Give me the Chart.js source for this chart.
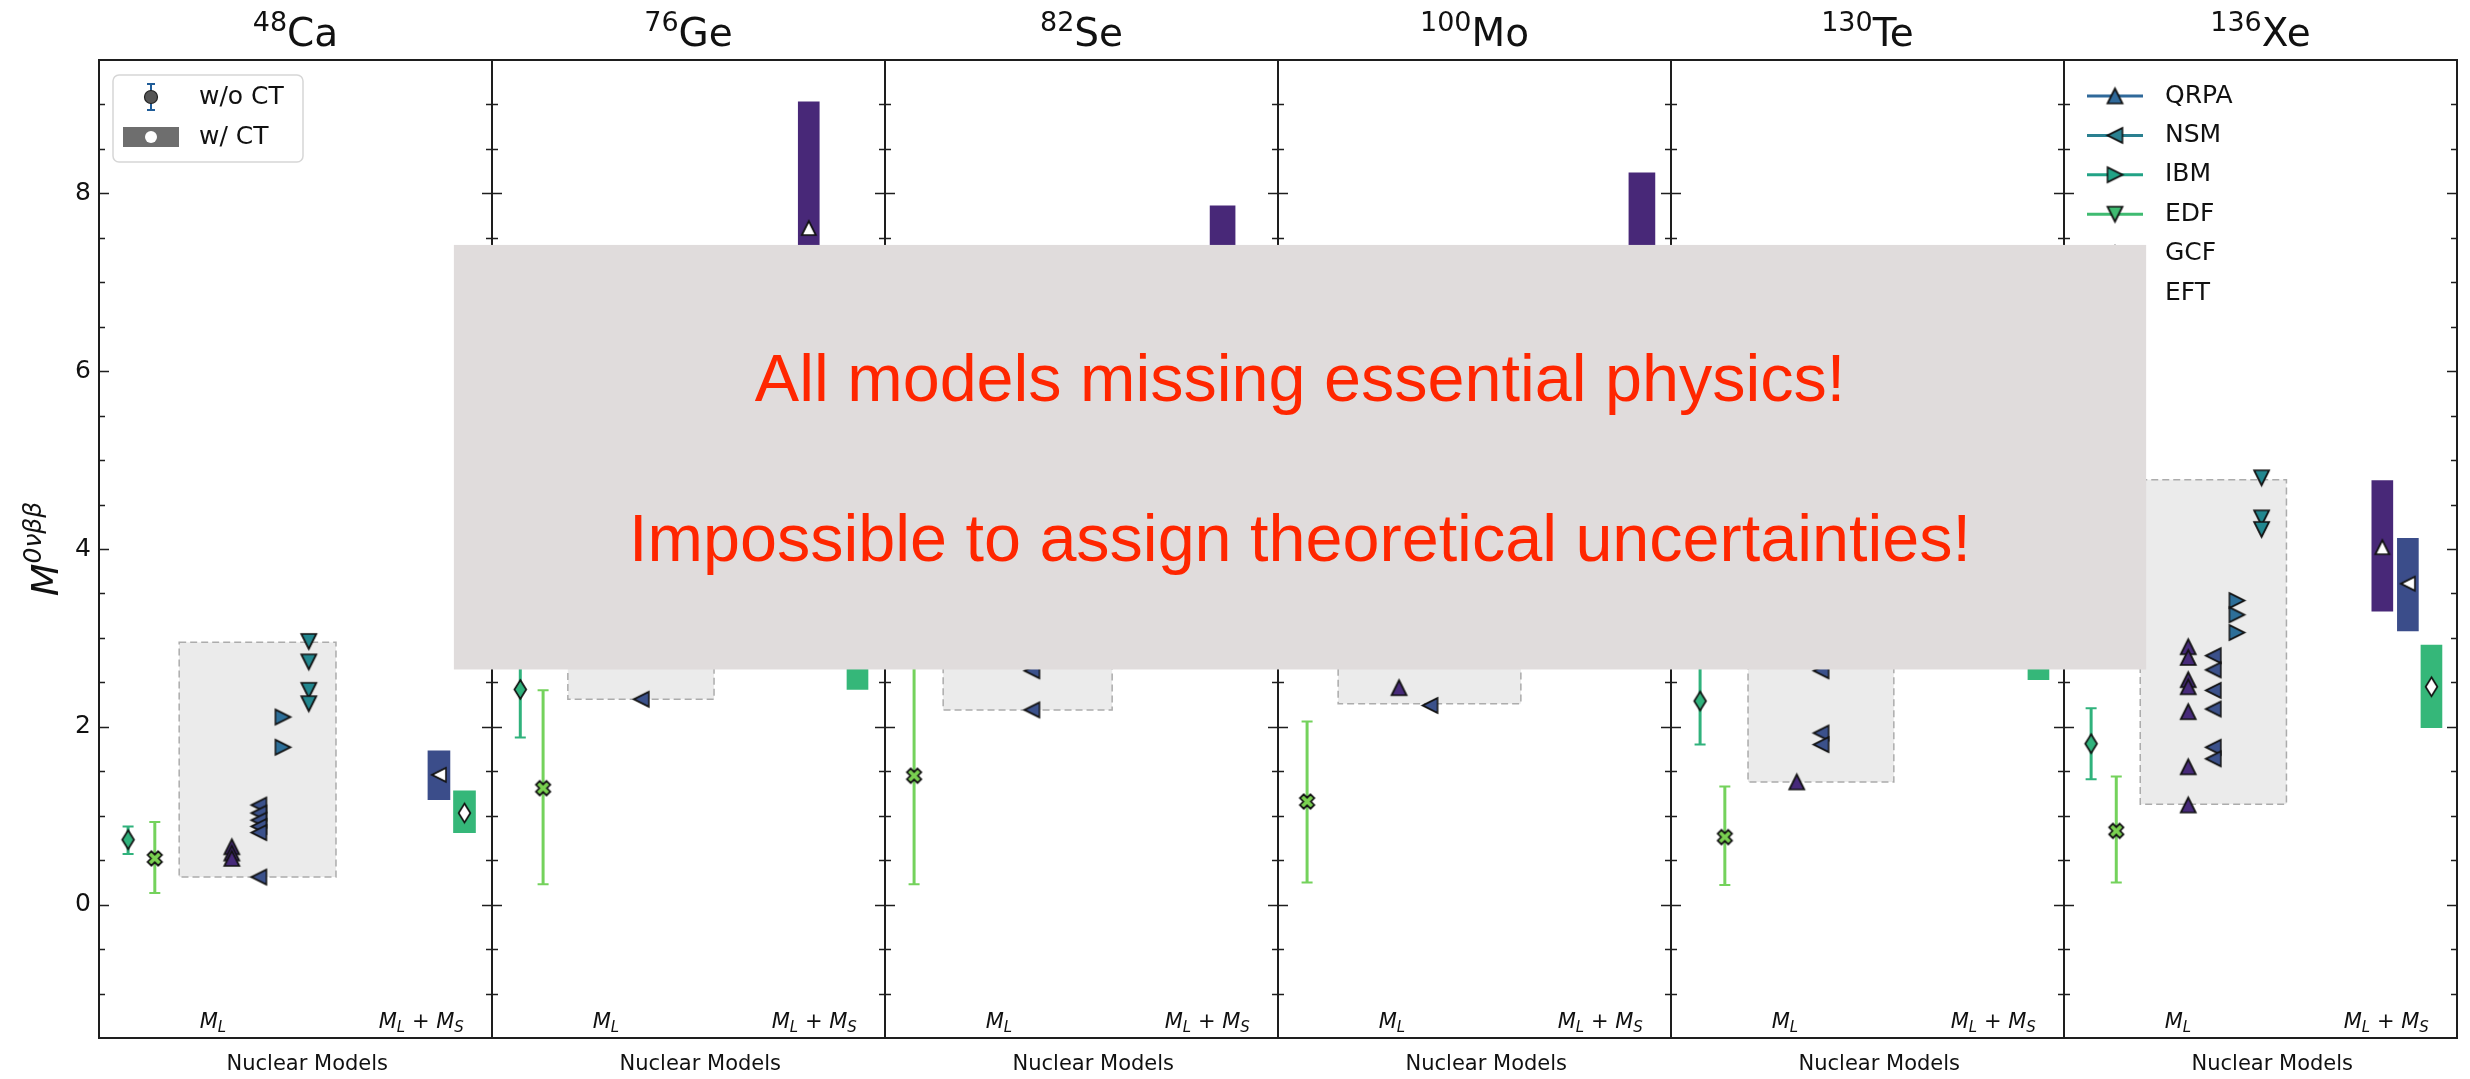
<!DOCTYPE html>
<html>
<head>
<meta charset="utf-8">
<title>0νββ nuclear matrix elements</title>
<script src="https://cdn.jsdelivr.net/npm/chart.js@4.4.1/dist/chart.umd.min.js"></script>
<style>
  html, body { margin: 0; padding: 0; background: #fff; }
  canvas { display: block; }
</style>
</head>
<body>
<canvas id="nmeChart" width="2470" height="1079"></canvas>
<script>
// one panel per isotope, x = panel index + slot inside the panel (0..1)
const massNumbers = ['48', '76', '82', '100', '130', '136'];
const elements = ['Ca', 'Ge', 'Se', 'Mo', 'Te', 'Xe'];
const yMajorTicks = [0, 2, 4, 6, 8];

// long-range NMEs per method: [panel, slot, M]
const qrpaML = [
  [0, 0.338, 0.65], [0, 0.338, 0.58], [0, 0.338, 0.52],
  [3, 0.308, 2.44],
  [4, 0.320, 1.38],
  [5, 0.316, 2.90], [5, 0.316, 2.78], [5, 0.316, 2.53], [5, 0.316, 2.45],
  [5, 0.316, 2.17], [5, 0.316, 1.55], [5, 0.316, 1.12]
];
const nsmML = [
  [0, 0.407, 1.12], [0, 0.407, 1.03], [0, 0.407, 0.95], [0, 0.407, 0.88],
  [0, 0.407, 0.81], [0, 0.407, 0.31],
  [1, 0.380, 2.31],
  [2, 0.374, 2.63], [2, 0.374, 2.19],
  [3, 0.387, 2.24],
  [4, 0.382, 2.63], [4, 0.382, 1.93], [4, 0.382, 1.80],
  [5, 0.380, 2.80], [5, 0.380, 2.64], [5, 0.380, 2.41], [5, 0.380, 2.20],
  [5, 0.380, 1.77], [5, 0.380, 1.64]
];
const ibmML = [
  [0, 0.468, 2.11], [0, 0.468, 1.77],
  [5, 0.440, 3.42], [5, 0.440, 3.26], [5, 0.440, 3.06]
];
const edfML = [
  [0, 0.534, 2.96], [0, 0.534, 2.73], [0, 0.534, 2.41], [0, 0.534, 2.26],
  [5, 0.503, 4.80], [5, 0.503, 4.35], [5, 0.503, 4.22]
];

// ab initio results without contact term: [panel, slot, M, low, high]
const gcfNoCT = [
  [0, 0.074, 0.73, 0.57, 0.88],
  [1, 0.072, 2.42, 1.88, 2.96],
  [4, 0.074, 2.29, 1.80, 2.78],
  [5, 0.069, 1.81, 1.41, 2.21]
];
const eftNoCT = [
  [0, 0.142, 0.52, 0.13, 0.93],
  [1, 0.130, 1.31, 0.23, 2.41],
  [2, 0.074, 1.45, 0.23, 2.70],
  [3, 0.074, 1.16, 0.25, 2.06],
  [4, 0.137, 0.76, 0.22, 1.33],
  [5, 0.133, 0.83, 0.25, 1.44]
];

// spread of M_L values: [panel, left slot, right slot, low, high]
const mlSpread = [
  [0, 0.204, 0.603, 0.31, 2.95],
  [1, 0.193, 0.565, 2.31, 6.60],
  [2, 0.148, 0.578, 2.19, 5.40],
  [3, 0.153, 0.618, 2.26, 6.00],
  [4, 0.196, 0.567, 1.38, 5.00],
  [5, 0.194, 0.566, 1.13, 4.78]
];

// M_L + M_S bands: [panel, slot, low, high, central, method]
const withCT = [
  [0, 0.865, 1.18, 1.73, 1.46, 'NSM'], [0, 0.930, 0.81, 1.28, 1.03, 'GCF'],
  [1, 0.806, 6.20, 9.03, 7.61, 'QRPA'], [1, 0.930, 2.42, 3.50, 2.96, 'GCF'],
  [2, 0.859, 5.00, 7.86, 6.40, 'QRPA'],
  [3, 0.926, 5.50, 8.23, 6.90, 'QRPA'],
  [4, 0.935, 2.53, 3.60, 3.05, 'GCF'],
  [5, 0.810, 3.30, 4.77, 4.02, 'QRPA'], [5, 0.875, 3.08, 4.12, 3.61, 'NSM'],
  [5, 0.935, 1.99, 2.92, 2.45, 'GCF']
];

const legendMethods = ['QRPA', 'NSM', 'IBM', 'EDF', 'GCF', 'EFT'];

// ---- styling ----
const FONT = '"DejaVu Sans", sans-serif';
const col = {
  QRPA: '#472a7a', NSM: '#3b518b', IBM: '#2d6f99', EDF: '#22878f',
  GCF: '#30b27c', EFT: '#7ad151', eftBar: '#74d25c'
};
const bandCol = { QRPA: '#482878', NSM: '#3b4d8a', GCF: '#35b779' };
const legendCol = ['#2f699a', '#2a8090', '#22a386', '#3fbb71', '#7ad151', '#bddf26'];
const bandWidthPx = [22, 21, 25, 26, 21, 21];

// matplotlib-like marker sprites
function makeMarker(shape, fill, size) {
  const c = document.createElement('canvas');
  c.width = c.height = Math.ceil(size + 8);
  const g = c.getContext('2d');
  const m = c.width / 2, h = size / 2;
  g.beginPath();
  if (shape === 'tri') {
    g.moveTo(m, m - h); g.lineTo(m + h, m + h); g.lineTo(m - h, m + h);
  } else if (shape === 'diamond') {
    g.moveTo(m, m - h); g.lineTo(m + h * 0.62, m); g.lineTo(m, m + h); g.lineTo(m - h * 0.62, m);
  } else if (shape === 'x') {
    const t = h * 0.36, k = Math.SQRT1_2;
    const pts = [[-t, -h], [t, -h], [t, -t], [h, -t], [h, t], [t, t], [t, h], [-t, h], [-t, t], [-h, t], [-h, -t], [-t, -t]];
    pts.forEach(([px, py], i) => {
      const rx = (px - py) * k, ry = (px + py) * k;
      if (i) g.lineTo(m + rx, m + ry); else g.moveTo(m + rx, m + ry);
    });
  }
  g.closePath();
  g.fillStyle = fill;
  g.fill();
  g.lineWidth = 1.7;
  g.lineJoin = 'miter';
  g.strokeStyle = '#111';
  g.stroke();
  return c;
}

const triRot = { QRPA: 0, NSM: -90, IBM: 90, EDF: 180 };
const whiteSprite = {
  QRPA: makeMarker('tri', '#fff', 14),
  NSM: makeMarker('tri', '#fff', 14),
  GCF: makeMarker('diamond', '#fff', 19)
};

const toXY = rows => rows.map(r => ({ x: r[0] + r[1], y: r[2] }));

function methodSet(label, rows) {
  return {
    label, data: toXY(rows),
    pointStyle: makeMarker('tri', col[label], 15),
    rotation: triRot[label], order: 1
  };
}

const bandSets = massNumbers.map((_, p) => {
  const rows = withCT.filter(r => r[0] === p);
  return {
    type: 'bar',
    label: 'M_L+M_S ' + elements[p],
    data: rows.map(r => ({ x: r[0] + r[1], y: [r[2], r[3]] })),
    backgroundColor: rows.map(r => bandCol[r[5]]),
    borderWidth: 0,
    barThickness: bandWidthPx[p],
    stack: 'ct',
    order: 5
  };
});

function drawRuns(ctx, runs, cx, baseline) {
  let total = 0;
  runs.forEach(r => { ctx.font = r.font; r.w = ctx.measureText(r.text).width; total += r.w; });
  let px = cx - total / 2;
  runs.forEach(r => {
    ctx.font = r.font;
    ctx.fillText(r.text, px, baseline + (r.dy || 0));
    px += r.w;
  });
}

const decorations = {
  id: 'decorations',
  beforeDatasetsDraw(chart) {
    const { ctx, scales: { x, y } } = chart;
    ctx.save();
    // grey dashed M_L ranges
    mlSpread.forEach(([p, a, b, lo, hi]) => {
      const x0 = x.getPixelForValue(p + a), x1 = x.getPixelForValue(p + b);
      const y0 = y.getPixelForValue(hi), y1 = y.getPixelForValue(lo);
      ctx.fillStyle = '#ebebeb';
      ctx.fillRect(x0, y0, x1 - x0, y1 - y0);
      ctx.setLineDash([7, 4]);
      ctx.lineWidth = 1.5;
      ctx.strokeStyle = '#acacac';
      ctx.strokeRect(x0, y0, x1 - x0, y1 - y0);
    });
    ctx.setLineDash([]);
    // error bars
    const errorBars = (rows, color) => rows.forEach(([p, s, v, lo, hi]) => {
      const px = x.getPixelForValue(p + s);
      const top = y.getPixelForValue(hi), bot = y.getPixelForValue(lo);
      ctx.strokeStyle = color;
      ctx.lineWidth = 3;
      ctx.beginPath(); ctx.moveTo(px, top); ctx.lineTo(px, bot); ctx.stroke();
      ctx.lineWidth = 2;
      ctx.beginPath();
      ctx.moveTo(px - 5.5, top); ctx.lineTo(px + 5.5, top);
      ctx.moveTo(px - 5.5, bot); ctx.lineTo(px + 5.5, bot);
      ctx.stroke();
    });
    errorBars(gcfNoCT, col.GCF);
    errorBars(eftNoCT, col.eftBar);
    ctx.restore();
  },
  afterDatasetsDraw(chart) {
    const { ctx, chartArea: area, scales: { x, y } } = chart;
    ctx.save();
    // panel frames
    ctx.strokeStyle = '#1e1e1e';
    ctx.lineWidth = 2;
    ctx.strokeRect(area.left, area.top, area.right - area.left, area.bottom - area.top);
    ctx.beginPath();
    for (let p = 1; p < 6; p++) {
      const px = Math.round(x.getPixelForValue(p));
      ctx.moveTo(px, area.top); ctx.lineTo(px, area.bottom);
    }
    ctx.stroke();
    // inward ticks on both sides of every panel
    ctx.lineWidth = 1.5;
    ctx.beginPath();
    for (let p = 0; p <= 6; p++) {
      const px = Math.round(x.getPixelForValue(p));
      for (let v = -1; v <= 9; v += 0.5) {
        const py = Math.round(y.getPixelForValue(v)) + 0.5;
        const len = yMajorTicks.includes(v) ? 10 : 6;
        if (p < 6) { ctx.moveTo(px, py); ctx.lineTo(px + len, py); }
        if (p > 0) { ctx.moveTo(px - len, py); ctx.lineTo(px, py); }
      }
    }
    ctx.stroke();
    // y tick labels
    ctx.fillStyle = '#111';
    ctx.font = '25px ' + FONT;
    ctx.textAlign = 'right';
    ctx.textBaseline = 'middle';
    yMajorTicks.forEach(v => ctx.fillText(String(v), area.left - 8, y.getPixelForValue(v)));
    // y axis title
    ctx.save();
    ctx.translate(58, (area.top + area.bottom) / 2);
    ctx.rotate(-Math.PI / 2);
    ctx.textAlign = 'left';
    ctx.textBaseline = 'alphabetic';
    drawRuns(ctx, [
      { text: 'M', font: 'italic 38px ' + FONT },
      { text: '0νββ', font: 'italic 25px ' + FONT, dy: -17 }
    ], 0, 0);
    ctx.restore();
    // panel titles and x annotations
    ctx.textAlign = 'left';
    ctx.textBaseline = 'alphabetic';
    massNumbers.forEach((a, p) => {
      const cx = x.getPixelForValue(p + 0.5);
      drawRuns(ctx, [
        { text: a, font: '27px ' + FONT, dy: -15 },
        { text: elements[p], font: '39px ' + FONT }
      ], cx, 46);
      drawRuns(ctx, [
        { text: 'M', font: 'italic 21px ' + FONT },
        { text: 'L', font: 'italic 15px ' + FONT, dy: 4 }
      ], x.getPixelForValue(p + 0.29), 1028);
      drawRuns(ctx, [
        { text: 'M', font: 'italic 21px ' + FONT },
        { text: 'L', font: 'italic 15px ' + FONT, dy: 4 },
        { text: ' + ', font: '21px ' + FONT },
        { text: 'M', font: 'italic 21px ' + FONT },
        { text: 'S', font: 'italic 15px ' + FONT, dy: 4 }
      ], x.getPixelForValue(p + 0.82), 1028);
      drawRuns(ctx, [{ text: 'Nuclear Models', font: '21px ' + FONT }],
        x.getPixelForValue(p + 0.53), 1070);
    });

    // CT legend (first panel)
    const lx = area.left + 14, ly = area.top + 15;
    ctx.beginPath();
    ctx.roundRect(lx, ly, 190, 87, 6);
    ctx.fillStyle = 'rgba(255,255,255,0.85)';
    ctx.fill();
    ctx.strokeStyle = '#d6d6d6';
    ctx.lineWidth = 1.5;
    ctx.stroke();
    const hx = lx + 38;
    ctx.strokeStyle = '#1f5c98';
    ctx.lineWidth = 2;
    ctx.beginPath();
    ctx.moveTo(hx, ly + 9); ctx.lineTo(hx, ly + 35);
    ctx.moveTo(hx - 4, ly + 9); ctx.lineTo(hx + 4, ly + 9);
    ctx.moveTo(hx - 4, ly + 35); ctx.lineTo(hx + 4, ly + 35);
    ctx.stroke();
    ctx.beginPath();
    ctx.arc(hx, ly + 22, 6.5, 0, Math.PI * 2);
    ctx.fillStyle = '#555';
    ctx.fill();
    ctx.strokeStyle = '#222';
    ctx.lineWidth = 1.2;
    ctx.stroke();
    ctx.fillStyle = '#6e6e6e';
    ctx.fillRect(hx - 28, ly + 52, 56, 20);
    ctx.beginPath();
    ctx.arc(hx, ly + 62, 6, 0, Math.PI * 2);
    ctx.fillStyle = '#fff';
    ctx.fill();
    ctx.fillStyle = '#111';
    ctx.font = '25px ' + FONT;
    ctx.textBaseline = 'middle';
    ctx.fillText('w/o CT', lx + 86, ly + 22);
    ctx.fillText('w/ CT', lx + 86, ly + 62);

    // method legend (last panel)
    const mx = x.getPixelForValue(5) + 23;
    legendMethods.forEach((name, i) => {
      const my = area.top + 36 + i * 39.4;
      ctx.strokeStyle = legendCol[i];
      ctx.lineWidth = 3;
      ctx.beginPath(); ctx.moveTo(mx, my); ctx.lineTo(mx + 56, my); ctx.stroke();
      const rot = [0, -90, 90, 180, 0, 0][i] * Math.PI / 180;
      const sprite = makeMarker('tri', legendCol[i], 15);
      ctx.save();
      ctx.translate(mx + 28, my);
      ctx.rotate(rot);
      ctx.drawImage(sprite, -sprite.width / 2, -sprite.height / 2);
      ctx.restore();
      ctx.fillStyle = '#111';
      ctx.fillText(name, mx + 78, my);
    });
    ctx.restore();
  },
  afterDraw(chart) {
    const { ctx, scales: { x, y } } = chart;
    const x0 = x.getPixelForValue(0.903), x1 = x.getPixelForValue(5.209);
    const y0 = y.getPixelForValue(7.42), y1 = y.getPixelForValue(2.645);
    ctx.save();
    ctx.fillStyle = '#e0dcdc';
    ctx.fillRect(x0, y0, x1 - x0, y1 - y0);
    const cx = (x0 + x1) / 2, cy = (y0 + y1) / 2;
    ctx.fillStyle = '#ff2600';
    ctx.font = '66.5px "Liberation Sans", Arial, Helvetica, sans-serif';
    ctx.textAlign = 'center';
    ctx.textBaseline = 'alphabetic';
    ctx.fillText('All models missing essential physics!', cx, cy - 56);
    ctx.fillText('Impossible to assign theoretical uncertainties!', cx, cy + 104);
    ctx.restore();
  }
};

new Chart(document.getElementById('nmeChart'), {
  type: 'scatter',
  data: {
    datasets: [
      {
        label: 'M_L+M_S central',
        data: withCT.map(r => ({ x: r[0] + r[1], y: r[4] })),
        pointStyle: withCT.map(r => whiteSprite[r[5]]),
        rotation: withCT.map(r => r[5] === 'NSM' ? -90 : 0),
        order: 0
      },
      methodSet('EDF', edfML),
      methodSet('IBM', ibmML),
      methodSet('NSM', nsmML),
      methodSet('QRPA', qrpaML),
      {
        label: 'EFT w/o CT',
        data: toXY(eftNoCT),
        pointStyle: makeMarker('x', col.EFT, 15),
        order: 1
      },
      {
        label: 'GCF w/o CT',
        data: toXY(gcfNoCT),
        pointStyle: makeMarker('diamond', col.GCF, 19),
        order: 1
      },
      ...bandSets
    ]
  },
  options: {
    responsive: false,
    devicePixelRatio: 1,
    animation: false,
    events: [],
    layout: { padding: { left: 99, right: 13, top: 60, bottom: 41 } },
    scales: {
      x: { type: 'linear', min: 0, max: 6, offset: false, display: false },
      y: { type: 'linear', min: -1.5, max: 9.5, display: false, stacked: false }
    },
    plugins: {
      legend: { display: false },
      tooltip: { enabled: false }
    }
  },
  plugins: [decorations]
});
</script>
</body>
</html>
